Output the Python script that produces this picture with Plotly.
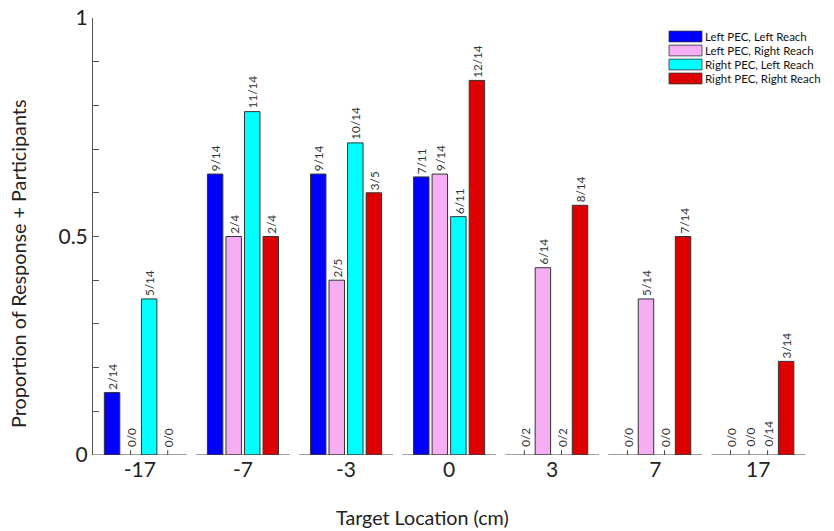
import plotly.graph_objects as go

# Target locations (cm) and the four PEC/reach conditions
locations = ["-17", "-7", "-3", "0", "3", "7", "17"]
series_names = [
    "Left PEC, Left Reach",
    "Left PEC, Right Reach",
    "Right PEC, Left Reach",
    "Right PEC, Right Reach",
]
series_colors = ["#0000FF", "#F6AEF2", "#00FFFF", "#DD0000"]

# Responders / participants at each location
ll_num = [2, 9, 9, 7, 0, 0, 0]
ll_den = [14, 14, 14, 11, 2, 0, 0]
lr_num = [0, 2, 2, 9, 6, 5, 0]
lr_den = [0, 4, 5, 14, 14, 14, 0]
rl_num = [5, 11, 10, 6, 0, 0, 0]
rl_den = [14, 14, 14, 11, 2, 0, 14]
rr_num = [0, 2, 3, 12, 8, 7, 3]
rr_den = [0, 4, 5, 14, 14, 14, 14]

numerators = [ll_num, lr_num, rl_num, rr_num]
denominators = [ll_den, lr_den, rl_den, rr_den]

FONT = "Lato"
SLOT = 0.18      # spacing between bars inside a group
BAR_W = 0.15     # bar width
SEG_HALF = 0.455 # half-length of each group's baseline segment

groups = list(range(len(locations)))
fig = go.Figure()

annotations = []
zero_x, zero_y = [], []
for k, (name, color, nums, dens) in enumerate(zip(series_names, series_colors, numerators, denominators)):
    off = (k - 1.5) * SLOT
    xs = [g + off for g in groups]
    vals = [n / d if d else 0.0 for n, d in zip(nums, dens)]
    fig.add_trace(go.Bar(
        x=xs, y=[v if v > 0 else None for v in vals], width=BAR_W, name=name,
        marker=dict(color=color, line=dict(color="#333333", width=1)),
        showlegend=False, cliponaxis=False,
    ))
    for x, v, n, d in zip(xs, vals, nums, dens):
        if v == 0:
            zero_x += [x, x, None]
            zero_y += [0, 0.011, None]
        annotations.append(dict(
            x=x, y=v, xref="x", yref="y", text=f"{n}/{d}", showarrow=False,
            textangle=-90, xanchor="center", yanchor="bottom",
            yshift=6 if v == 0 else 1,
            font=dict(family=FONT, size=11.7, color="#333333"),
        ))

# Small ticks marking empty conditions
fig.add_trace(go.Scatter(
    x=zero_x, y=zero_y, mode="lines", line=dict(color="#444444", width=1),
    showlegend=False, cliponaxis=False, hoverinfo="skip",
))

# Broken baseline: one segment per target location
seg_x, seg_y = [], []
for g in groups:
    seg_x += [g - SEG_HALF, g + SEG_HALF, None]
    seg_y += [0, 0, None]
fig.add_trace(go.Scatter(
    x=seg_x, y=seg_y, mode="lines", line=dict(color="#444444", width=1.2),
    showlegend=False, cliponaxis=False, hoverinfo="skip",
))

# Plot-area geometry in pixels
L, T, W, H = 93, 18, 722, 437
def px(xp):
    return (xp - L) / W
def py(yp):
    return (T + H - yp) / H

# Legend built from wide colour swatches
shapes = []
row_y0 = 36.5
row_dy = 14
for k, (name, color) in enumerate(zip(series_names, series_colors)):
    yc = row_y0 + k * row_dy
    shapes.append(dict(
        type="rect", xref="paper", yref="paper",
        x0=px(669), x1=px(702), y0=py(yc + 5.4), y1=py(yc - 5.4),
        fillcolor=color, line=dict(color="#333333", width=0.8),
    ))
    annotations.append(dict(
        x=px(704), y=py(yc), xref="paper", yref="paper", text=name,
        showarrow=False, xanchor="left", yanchor="middle", borderpad=0,
        font=dict(family=FONT, size=11.5, color="#111111"),
    ))

# Axis titles
annotations.append(dict(
    x=px(422), y=py(517), xref="paper", yref="paper",
    text="Target Location (cm)", showarrow=False,
    xanchor="center", yanchor="middle",
    font=dict(family=FONT, size=19.7, color="#222222"),
))
annotations.append(dict(
    x=px(18), y=py(264), xref="paper", yref="paper",
    text="Proportion of Response + Participants", showarrow=False,
    textangle=-90, xanchor="center", yanchor="middle",
    font=dict(family=FONT, size=19.8, color="#222222"),
))

fig.update_layout(
    width=834, height=531,
    margin=dict(l=L, r=834 - L - W, t=T, b=531 - T - H),
    paper_bgcolor="white", plot_bgcolor="white",
    barmode="overlay",
    showlegend=False,
    annotations=annotations,
    shapes=shapes,
    xaxis=dict(
        range=[-SEG_HALF, 6.55], tickvals=groups, ticktext=locations,
        showline=False, showgrid=False, zeroline=False, ticks="",
        tickfont=dict(family=FONT, size=21, color="#222222"),
        automargin=False,
    ),
    yaxis=dict(
        range=[0, 1], tickvals=[0, 0.5, 1], ticktext=["0", "0.5", "1"],
        showline=True, linecolor="#555555", linewidth=1,
        ticks="inside", ticklen=6, tickcolor="#555555",
        minor=dict(dtick=0.1, ticks="inside", ticklen=6, tickcolor="#555555"),
        showgrid=False, zeroline=False,
        tickfont=dict(family=FONT, size=21, color="#222222"),
        automargin=False,
    ),
)

fig.write_html("out.html")
